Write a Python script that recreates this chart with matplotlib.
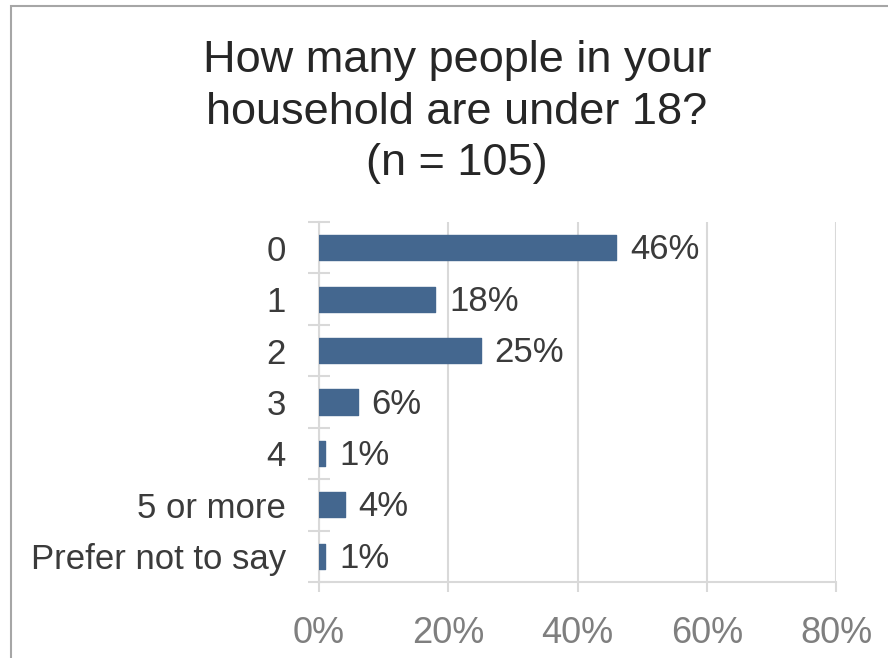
import numpy as np
import matplotlib.pyplot as plt
from matplotlib.patches import Rectangle
from matplotlib.ticker import FuncFormatter, MultipleLocator

categories = ['0', '1', '2', '3', '4', '5 or more', 'Prefer not to say']
percents = [46, 18, 25, 6, 1, 4, 1]
x_ticks = [0, 20, 40, 60, 80]
title = 'How many people in your\nhousehold are under 18?\n(n = 105)'

bar_color = '#44678f'
text_color = '#3b3b3b'
grid_color = '#d9d9d9'

plt.rcParams['font.family'] = ['Liberation Sans', 'DejaVu Sans']

fig = plt.figure(figsize=(8.88, 6.58), dpi=100)
ax = fig.add_axes([319 / 888, 1 - 582 / 658, 517 / 888, 360 / 658])

y = np.arange(len(categories))
ax.barh(y, percents, height=0.49, color=bar_color, edgecolor=bar_color,
        linewidth=1, joinstyle='round', zorder=3)
for yi, p in zip(y, percents):
    ax.annotate('%d%%' % p, (p, yi), xytext=(10, -1.5), textcoords='offset points',
                va='center', ha='left', fontsize=25, color=text_color)

ax.set_xlim(0, 80)
ax.set_ylim(len(categories) - 0.5, -0.5)
ax.set_xticks(x_ticks)
ax.xaxis.set_major_formatter(FuncFormatter(lambda v, pos: '%d%%' % v))
ax.tick_params(axis='x', length=7.5, width=1.5, color=grid_color,
               labelsize=26, labelcolor='#7f7f7f', pad=17)
ax.grid(axis='x', color=grid_color, linewidth=1.5, zorder=0)

ax.set_yticks(y)
ax.set_yticklabels(categories)
ax.yaxis.set_minor_locator(MultipleLocator(1, offset=0.5))
ax.tick_params(axis='y', which='major', length=0, labelsize=25,
               labelcolor=text_color, pad=24)
ax.tick_params(axis='y', which='minor', direction='inout', length=16,
               width=1.5, color=grid_color)

for side in ['top', 'right']:
    ax.spines[side].set_visible(False)
for side in ['left', 'bottom']:
    ax.spines[side].set_color(grid_color)
    ax.spines[side].set_linewidth(1.5)

fig.text(457 / 888, 1 - 40 / 658, title, ha='center', va='top',
         fontsize=32.5, color='#262626', linespacing=1.33)

# outer chart frame
fig.patches.append(Rectangle((11 / 888, -0.1), 1.2, 1 - 6 / 658 + 0.1,
                             transform=fig.transFigure, fill=False,
                             edgecolor='#a6a6a6', linewidth=1.5))

fig.savefig('out.png', dpi=100)
